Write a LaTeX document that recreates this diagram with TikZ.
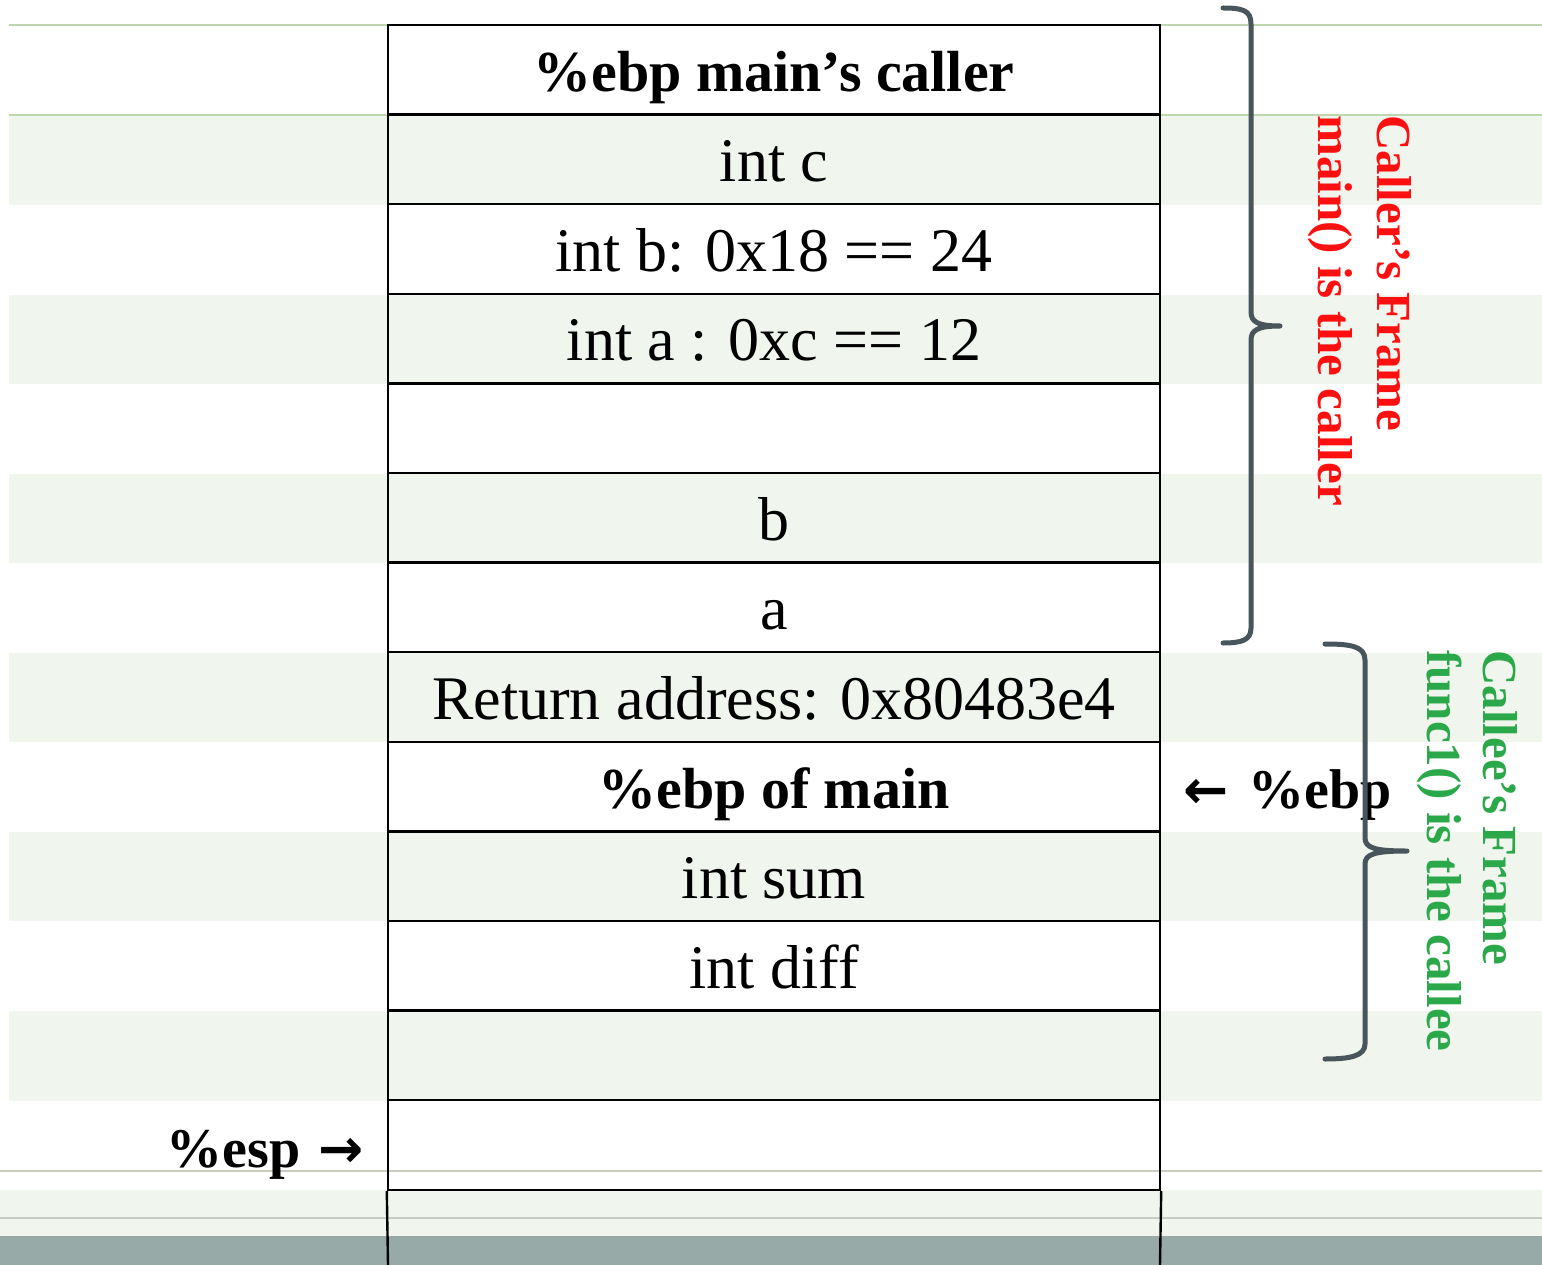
\documentclass[tikz,border=0pt]{standalone}
\usepackage{fontspec}
\setmainfont{Liberation Serif}
\newfontfamily\arrowfont{DejaVu Sans}
\definecolor{band}{HTML}{F0F5EE}
\definecolor{gline}{HTML}{BED8AE}
\definecolor{grayline}{HTML}{C8CBC0}
\definecolor{barcol}{HTML}{97AAA8}
\definecolor{bracecol}{HTML}{48565C}
\definecolor{calleecol}{HTML}{2BA84A}
\definecolor{callercol}{HTML}{FF1010}
\begin{document}
\begin{tikzpicture}[x=1pt,y=-1pt,
  cell/.style={draw=black, line width=2.4pt, minimum width=772pt, minimum height=89.6pt,
    inner sep=0pt, text height=50pt, text depth=5.6pt, font=\fontsize{62}{70}\selectfont},
  boldcell/.style={cell, font=\fontsize{58}{70}\selectfont\bfseries},
  tabline/.style={draw=black, line width=2.4pt},
  bracestyle/.style={draw=bracecol, line width=5pt, line cap=round, line join=round},
  sidelabel/.style={font=\fontsize{49}{60}\selectfont\bfseries, rotate=-90, anchor=base west, inner sep=0pt},
  reglabel/.style={font=\fontsize{56}{60}\selectfont\bfseries, inner sep=0pt}
]
\useasboundingbox (0,0) rectangle (1542,1265);
\fill[white] (0,0) rectangle (1542,1265);
% background stripes
\foreach \t in {115,294.6,473.8,652.6,831.8,1011}{
  \fill[band] (9,\t) rectangle (1542,\t+89.6);
}
\fill[band] (0,1190) rectangle (1542,1236);
\draw[gline, line width=2.5pt] (9,25) -- (1542,25);
\draw[gline, line width=2.5pt] (9,115) -- (1542,115);
\draw[grayline, line width=2.5pt] (0,1171) -- (1542,1171);
\draw[grayline, line width=2.5pt] (0,1218) -- (1542,1218);
\fill[barcol] (0,1236) rectangle (1542,1265);

% stack cells
\node[boldcell] (r1) at (774,69.8) {\%ebp main’s caller};
\node[cell] (r2) at (774,159.4) {int c};
\node[cell] (r3) at (774,249) {int b: 0x18 == 24};
\node[cell] (r4) at (774,338.6) {int a : 0xc == 12};
\node[cell] (r5) at (774,428.2) {};
\node[cell] (r6) at (774,517.8) {b};
\node[cell] (r7) at (774,607.4) {a};
\node[cell] (r8) at (774,697) {Return address: 0x80483e4};
\node[boldcell] (r9) at (774,786.6) {\%ebp of main};
\node[cell] (r10) at (774,876.2) {int sum};
\node[cell] (r11) at (774,965.8) {int diff};
\node[cell] (r12) at (774,1055.4) {};
\node[cell] (r13) at (774,1145) {};
\coordinate (bl) at (388,1265);
\coordinate (br) at (1160,1265);
\draw[tabline] (r13.south west) -- (bl);
\draw[tabline] (r13.south east) -- (br);

% pointers
\node[reglabel, anchor=base east] (esp) at (364,1167) {\%esp\hspace{18pt}{\arrowfont\bfseries\fontsize{54}{56}\selectfont →}};
\node[reglabel, anchor=base west] (ebp) at (1183,808) {{\arrowfont\bfseries\fontsize{54}{56}\selectfont ←}\hspace{20pt}\%ebp};

% side labels
\node[sidelabel, text=callercol] (callerA) at (1377,115) {Caller’s Frame};
\node[sidelabel, text=callercol] (callerB) at (1318,115) {main() is the caller};
\node[sidelabel, text=calleecol] (calleeA) at (1483,650) {Callee’s Frame};
\node[sidelabel, text=calleecol] (calleeB) at (1427,650) {func1() is the callee};

% braces
\draw[bracestyle] (1223,8) .. controls (1242,8) and (1251,10) .. (1251,24) -- (1251,312)
  .. controls (1251,322) and (1258,326) .. (1280,326)
  .. controls (1258,326) and (1251,330) .. (1251,340) -- (1251,628)
  .. controls (1251,640) and (1242,643) .. (1223,643);
\draw[bracestyle] (1325,644) .. controls (1350,644) and (1365,646) .. (1365,660) -- (1365,838)
  .. controls (1365,848) and (1375,851) .. (1407,851)
  .. controls (1375,851) and (1365,854) .. (1365,864) -- (1365,1044)
  .. controls (1365,1056) and (1350,1059) .. (1325,1059);
\end{tikzpicture}
\end{document}
